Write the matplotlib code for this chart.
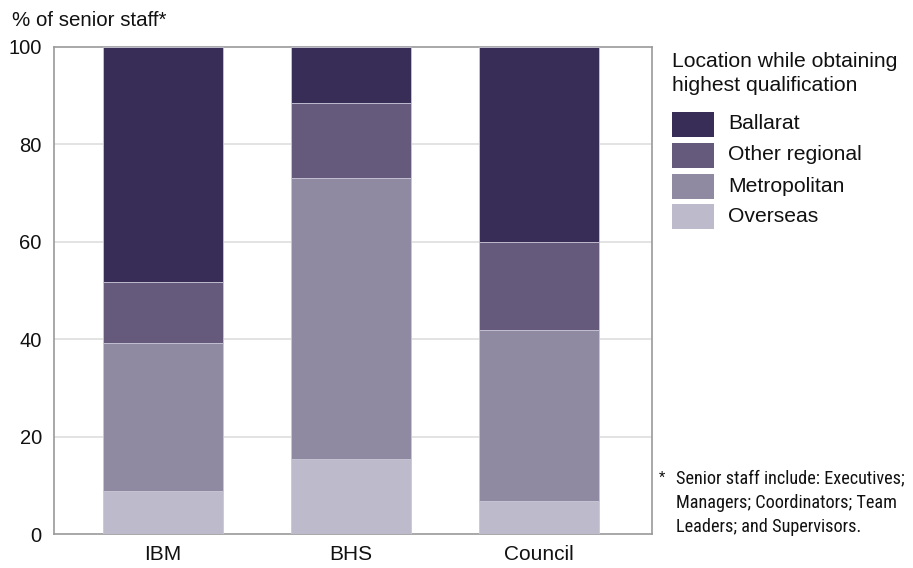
import matplotlib
matplotlib.use("Agg")
import matplotlib.pyplot as plt
from matplotlib.patches import Rectangle
from matplotlib import font_manager
import numpy as np

plt.rcParams["font.family"] = ["Liberation Sans", "DejaVu Sans"]

# Data: share of senior staff (%) by location while obtaining highest qualification
organisations = ["IBM", "BHS", "Council"]
series_names = ["Ballarat", "Other regional", "Metropolitan", "Overseas"]
overseas = [8.9, 15.4, 6.8]
metropolitan = [30.4, 57.7, 35.0]
other_regional = [12.4, 15.4, 18.1]
ballarat = [48.3, 11.5, 40.1]
y_ticks = [0, 20, 40, 60, 80, 100]
footnote_lines = ["Senior staff include: Executives;",
                  "Managers; Coordinators; Team",
                  "Leaders; and Supervisors."]

colors = {
    "Ballarat": "#372d57",
    "Other regional": "#655a7c",
    "Metropolitan": "#8f8aa1",
    "Overseas": "#bdbacb",
}


def narrow_font():
    """Pick a regular-weight narrow/condensed sans face if one is installed."""
    prefs = ["liberation sans narrow", "roboto condensed", "noto sans condensed",
             "open sans condensed", "dejavu sans condensed"]
    found = {}
    for f in font_manager.fontManager.ttflist:
        fn = f.fname.lower().replace("-", " ").replace("_", " ")
        label = (f.name + " " + fn).lower()
        if f.style != "normal" or f.weight not in (400, "normal", "regular"):
            continue
        if "bold" in fn or "italic" in fn or "light" in fn or "medium" in fn:
            continue
        if "narrow" in label or "condensed" in label:
            for p in prefs:
                key = p.split()[0]
                if key in label and ("narrow" in p and "narrow" in label or
                                     "condensed" in p and "condensed" in label):
                    found.setdefault(p, f.fname)
    for p in prefs:
        if p in found:
            return font_manager.FontProperties(fname=found[p])
    return font_manager.FontProperties(family="Liberation Sans")


W, H = 913, 568
fig = plt.figure(figsize=(W / 100, H / 100), dpi=100)
ax = fig.add_axes([54.3 / W, 1 - 534.3 / H, (652 - 54.3) / W, (534.3 - 46.7) / H])

x = np.arange(len(organisations))
width = 0.638
bottom = np.zeros(len(organisations))
stack = [("Overseas", overseas), ("Metropolitan", metropolitan),
         ("Other regional", other_regional), ("Ballarat", ballarat)]
for name, vals in stack:
    vals = np.array(vals)
    ax.bar(x, vals, width, bottom=bottom, color=colors[name],
           edgecolor="#c9c6d6", linewidth=0.6, zorder=3)
    bottom += vals

ax.set_xlim(-0.578, 2.601)
ax.set_ylim(0, 100)
ax.set_yticks(y_ticks)
ax.set_yticklabels([str(t) for t in y_ticks], fontsize=14.5, color="#111111")
ax.set_xticks(x)
ax.set_xticklabels(organisations, fontsize=15, color="#111111")
ax.tick_params(axis="both", length=0)
ax.tick_params(axis="y", pad=9)
ax.tick_params(axis="x", pad=8)
for t in y_ticks[1:-1]:
    ax.axhline(t, color="#dedede", linewidth=1.2, zorder=1)
for s in ax.spines.values():
    s.set_color("#9a9a9a")
    s.set_linewidth(1.2)

fig.text(12 / W, 1 - 20 / H, "% of senior staff*", fontsize=14.8,
         va="center", ha="left", color="#111111")

# Legend
fig.text(672 / W, 1 - 73.5 / H, "Location while obtaining\nhighest qualification",
         fontsize=15.2, va="center", ha="left", color="#111111", linespacing=1.32)
row_y = [124, 155, 186, 216.5]
for name, yc in zip(series_names, row_y):
    fig.add_artist(Rectangle((672 / W, 1 - (yc + 12.5) / H), 42 / W, 25 / H,
                             transform=fig.transFigure, facecolor=colors[name],
                             edgecolor="none"))
    fig.text(728 / W, 1 - yc / H, name, fontsize=15.2, va="center", ha="left",
             color="#111111")

# Footnote, in a narrow face sized so the first line spans the space beside the plot
fp = narrow_font()
fp.set_size(14)
note_y = [478, 503, 527]
note_texts = [fig.text(676 / W, 1 - yy / H, line, fontproperties=fp,
                       va="center", ha="left", color="#111111")
              for line, yy in zip(footnote_lines, note_y)]
renderer = fig.canvas.get_renderer()
w0 = note_texts[0].get_window_extent(renderer).width
scale = (907 - 676) / w0
new_size = min(14 * scale, 15)
for t in note_texts:
    t.set_fontsize(new_size)
star = fig.text(659 / W, 1 - note_y[0] / H, "*", fontproperties=fp.copy(),
                va="center", ha="left", color="#111111")
star.set_fontsize(new_size * 0.8)

fig.savefig("out.png", dpi=100)
